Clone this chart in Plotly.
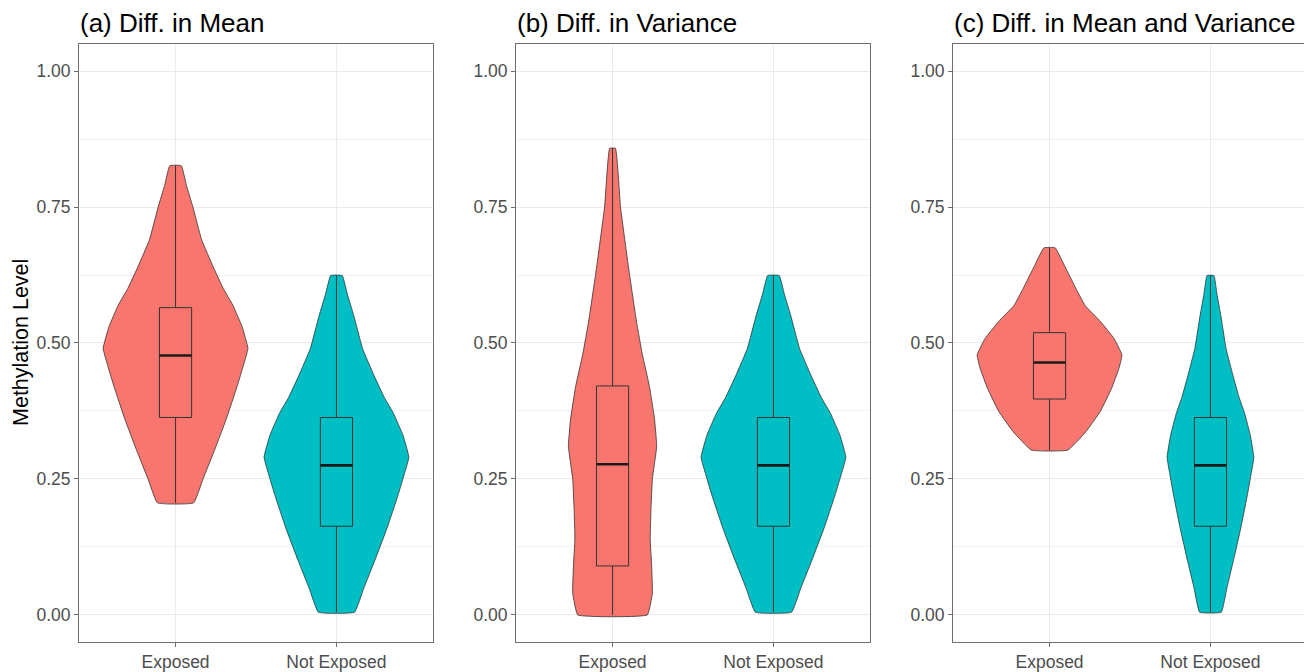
import plotly.graph_objects as go

# ---------------- data ----------------
categories = ["Exposed", "Not Exposed"]
panel_titles = ["(a) Diff. in Mean", "(b) Diff. in Variance", "(c) Diff. in Mean and Variance"]
y_ticks = [0.0, 0.25, 0.5, 0.75, 1.0]
y_ticklabels = ["0.00", "0.25", "0.50", "0.75", "1.00"]

# violin density profiles: methylation level vs. relative density
a_exp_level = [0.206, 0.25, 0.30, 0.36, 0.42, 0.46, 0.49, 0.53, 0.57, 0.60, 0.64, 0.69, 0.75, 0.79, 0.826]
a_exp_density = [0.25, 0.38, 0.53, 0.70, 0.85, 0.94, 1.00, 0.92, 0.79, 0.66, 0.52, 0.36, 0.24, 0.15, 0.08]

b_exp_level = [0.0, 0.04, 0.09, 0.14, 0.19, 0.25, 0.31, 0.36, 0.42, 0.48, 0.54, 0.63, 0.75, 0.858]
b_exp_density = [0.48, 0.55, 0.54, 0.52, 0.53, 0.55, 0.61, 0.58, 0.51, 0.41, 0.33, 0.23, 0.11, 0.04]

c_exp_level = [0.303, 0.337, 0.374, 0.4165, 0.453, 0.478, 0.508, 0.539, 0.569, 0.600, 0.643, 0.675]
c_exp_density = [0.42, 0.84, 1.17, 1.43, 1.60, 1.67, 1.49, 1.18, 0.82, 0.61, 0.34, 0.13]

notexp_level = [0.005, 0.05, 0.10, 0.16, 0.22, 0.26, 0.29, 0.33, 0.37, 0.40, 0.44, 0.49, 0.55, 0.59, 0.624]
notexp_density = [0.25, 0.38, 0.53, 0.70, 0.85, 0.94, 1.00, 0.92, 0.79, 0.66, 0.52, 0.36, 0.24, 0.15, 0.08]

# box statistics: [min, q1, median, q3, max]
a_exp_box = [0.206, 0.363, 0.477, 0.565, 0.826]
b_exp_box = [0.0, 0.090, 0.277, 0.421, 0.858]
c_exp_box = [0.303, 0.397, 0.464, 0.519, 0.675]
notexp_box = [0.005, 0.163, 0.275, 0.363, 0.624]

colors = ["#F8766D", "#00BFC4"]

panels = [
    [(a_exp_level, a_exp_density, a_exp_box), (notexp_level, notexp_density, notexp_box)],
    [(b_exp_level, b_exp_density, b_exp_box), (notexp_level, notexp_density, notexp_box)],
    [(c_exp_level, c_exp_density, c_exp_box), (notexp_level, notexp_density, notexp_box)],
]

# ---------------- figure ----------------
OFF = 8                      # default page body margin
PAGE_W, PAGE_H = 1312, 672
W, H = PAGE_W - OFF, PAGE_H - OFF
x_domains = [(79, 433), (516, 870), (953, 1307)]   # page pixels
y_top, y_bot = 44, 644
VIOLIN_WIDTH = 0.9
BOX_WIDTH = 0.2
OUTLINE = "#333333"
FONT = "Liberation Sans, Arial, sans-serif"


def px_x(p):
    return (p - OFF) / W


def px_y(p):
    return 1 - (p - OFF) / H


fig = go.Figure()

for p, groups in enumerate(panels):
    suffix = "" if p == 0 else str(p + 1)
    xa, ya = "x" + suffix, "y" + suffix
    panel_max = max(max(g[1]) for g in groups)
    scale = (VIOLIN_WIDTH / 2) / panel_max
    for gi, (lev, dens, box) in enumerate(groups):
        center = gi + 1
        # violin outline
        xs = [center + d * scale for d in dens] + [center - d * scale for d in reversed(dens)]
        ys = list(lev) + list(reversed(lev))
        xs.append(xs[0])
        ys.append(ys[0])
        fig.add_trace(go.Scatter(
            x=xs, y=ys, xaxis=xa, yaxis=ya, mode="lines",
            fill="toself", fillcolor=colors[gi],
            line=dict(color=OUTLINE, width=0.8, shape="spline", smoothing=0.3),
            showlegend=False, hoverinfo="skip"))
        # whiskers
        fig.add_trace(go.Scatter(
            x=[center, center, None, center, center],
            y=[box[0], box[1], None, box[3], box[4]],
            xaxis=xa, yaxis=ya, mode="lines",
            line=dict(color=OUTLINE, width=1),
            showlegend=False, hoverinfo="skip"))
        # box
        bl, br = center - BOX_WIDTH / 2, center + BOX_WIDTH / 2
        fig.add_trace(go.Scatter(
            x=[bl, br, br, bl, bl], y=[box[1], box[1], box[3], box[3], box[1]],
            xaxis=xa, yaxis=ya, mode="lines", fill="toself", fillcolor=colors[gi],
            line=dict(color=OUTLINE, width=1),
            showlegend=False, hoverinfo="skip"))
        # median
        fig.add_trace(go.Scatter(
            x=[bl, br], y=[box[2], box[2]],
            xaxis=xa, yaxis=ya, mode="lines",
            line=dict(color="#1a1a1a", width=2.6),
            showlegend=False, hoverinfo="skip"))

    x0, x1 = x_domains[p]
    axis_common = dict(
        showline=True, mirror=True, linecolor="#6e6e6e", linewidth=1,
        ticks="outside", ticklen=4, tickcolor="#6e6e6e",
        tickfont=dict(family=FONT, size=17.5, color="#4d4d4d"),
        showgrid=True, gridcolor="#ebebeb", gridwidth=1, zeroline=False,
    )
    fig.layout["xaxis" + suffix] = dict(
        axis_common, domain=[px_x(x0), px_x(x1)], range=[0.4, 2.6],
        tickvals=[1, 2], ticktext=categories, anchor=ya, fixedrange=True)
    fig.layout["yaxis" + suffix] = dict(
        axis_common, domain=[px_y(y_bot), px_y(y_top)], range=[-0.05, 1.05],
        tickvals=y_ticks, ticktext=y_ticklabels, anchor=xa, fixedrange=True,
        minor=dict(tickvals=[0.125, 0.375, 0.625, 0.875], showgrid=True,
                   gridcolor="#f0f0f0", gridwidth=0.6))

    fig.add_annotation(
        text=panel_titles[p], xref="paper", yref="paper",
        x=px_x(x0 - 1), y=px_y(23), xanchor="left", yanchor="middle",
        showarrow=False, font=dict(family=FONT, size=26, color="#000000"))

fig.add_annotation(
    text="Methylation Level", xref="paper", yref="paper",
    x=px_x(21), y=px_y(344), xanchor="center", yanchor="middle", textangle=-90,
    showarrow=False, font=dict(family=FONT, size=21.5, color="#000000"))

fig.update_layout(
    width=W, height=H, margin=dict(l=0, r=0, t=0, b=0),
    paper_bgcolor="white", plot_bgcolor="white", showlegend=False,
    font=dict(family=FONT),
)

fig.write_html("out.html")
